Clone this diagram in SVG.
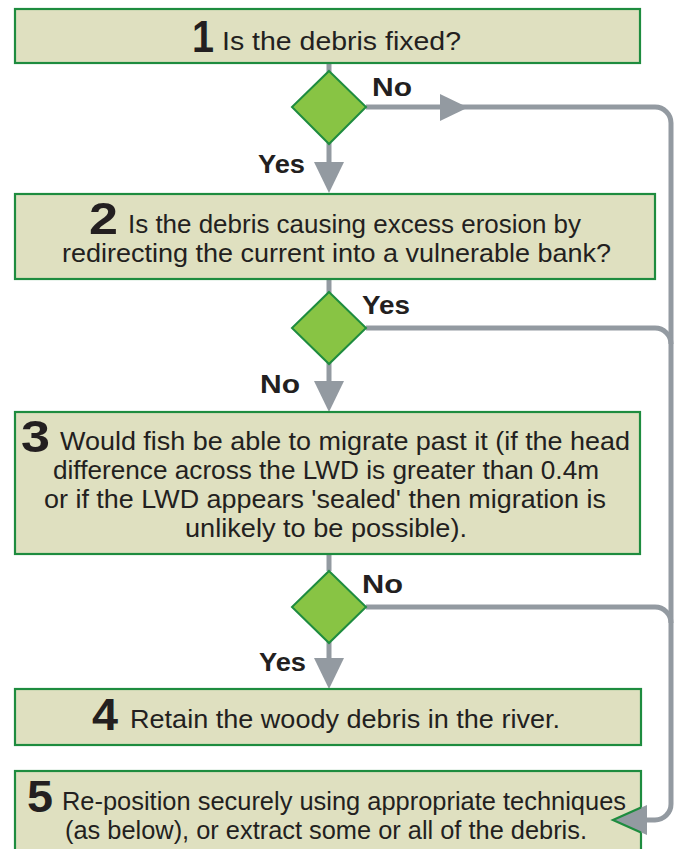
<svg xmlns="http://www.w3.org/2000/svg" width="683" height="849" viewBox="0 0 683 849">
<style>
.box{fill:#dfe0c0;stroke:#1e8c3f;stroke-width:2.2}
.dia{fill:#88c444;stroke:#1e8c3f;stroke-width:2}
.ln{fill:none;stroke:#939aa1;stroke-width:5}
.ah{fill:#939aa1;stroke:none}
.t{font-family:"Liberation Sans",Arial,sans-serif;font-size:25.5px;fill:#231f20}
.n{font-family:"Liberation Sans",Arial,sans-serif;font-size:45px;font-weight:bold;fill:#231f20}
.lb{font-family:"Liberation Sans",Arial,sans-serif;font-size:26px;font-weight:bold;fill:#231f20}
</style>
<rect width="683" height="849" fill="#ffffff"/>
<g id="connectors">
<line class="ln" x1="329" y1="63" x2="329" y2="72"/>
<line class="ln" x1="329" y1="143" x2="329" y2="165"/>
<polygon class="ah" points="314,162 344,162 329,193"/>
<line class="ln" x1="329" y1="279" x2="329" y2="293"/>
<line class="ln" x1="329" y1="363" x2="329" y2="384"/>
<polygon class="ah" points="314,381 344,381 329,412"/>
<line class="ln" x1="329" y1="554" x2="329" y2="571"/>
<line class="ln" x1="329" y1="642" x2="329" y2="661"/>
<polygon class="ah" points="314,658 344,658 329,689"/>
<path class="ln" d="M 366 107 H 655 A 16 16 0 0 1 671 123 V 804 A 16 16 0 0 1 655 820 H 640"/>
<polygon class="ah" points="440,94 440,121 468,107.5"/>
<path class="ln" d="M 366 328 H 655 A 16 16 0 0 1 671 344"/>
<path class="ln" d="M 366 607 H 655 A 16 16 0 0 1 671 623"/>
</g>
<g id="n1">
<rect class="box" x="15" y="9" width="625" height="54"/>
<text class="n" x="192" y="52" textLength="22" lengthAdjust="spacingAndGlyphs">1</text>
<text class="t" x="222" y="50" textLength="239" lengthAdjust="spacingAndGlyphs">Is the debris fixed?</text>
</g>
<g id="d1">
<polygon class="dia" points="329,71 366,107 329,144 292,107"/>
<text class="lb" x="372" y="96" textLength="40" lengthAdjust="spacingAndGlyphs">No</text>
<text class="lb" x="258" y="173" textLength="47" lengthAdjust="spacingAndGlyphs">Yes</text>
</g>
<g id="n2">
<rect class="box" x="15" y="194" width="640" height="85"/>
<text class="n" x="89" y="234" textLength="29" lengthAdjust="spacingAndGlyphs">2</text>
<text class="t" x="128" y="233" textLength="453" lengthAdjust="spacingAndGlyphs">Is the debris causing excess erosion by</text>
<text class="t" x="62" y="262" textLength="549" lengthAdjust="spacingAndGlyphs">redirecting the current into a vulnerable bank?</text>
</g>
<g id="d2">
<polygon class="dia" points="329,292 366,328 329,364 292,328"/>
<text class="lb" x="362" y="314" textLength="48" lengthAdjust="spacingAndGlyphs">Yes</text>
<text class="lb" x="260" y="393" textLength="40" lengthAdjust="spacingAndGlyphs">No</text>
</g>
<g id="n3">
<rect class="box" x="15" y="412" width="625" height="142"/>
<text class="n" x="21" y="452" textLength="29" lengthAdjust="spacingAndGlyphs">3</text>
<text class="t" x="60" y="450" textLength="570" lengthAdjust="spacingAndGlyphs">Would fish be able to migrate past it (if the head</text>
<text class="t" x="53" y="479" textLength="546" lengthAdjust="spacingAndGlyphs">difference across the LWD is greater than 0.4m</text>
<text class="t" x="44" y="508" textLength="562" lengthAdjust="spacingAndGlyphs">or if the LWD appears 'sealed' then migration is</text>
<text class="t" x="185" y="537" textLength="282" lengthAdjust="spacingAndGlyphs">unlikely to be possible).</text>
</g>
<g id="d3">
<polygon class="dia" points="329,571 366,607 329,643 292,607"/>
<text class="lb" x="362" y="593" textLength="41" lengthAdjust="spacingAndGlyphs">No</text>
<text class="lb" x="259" y="671" textLength="47" lengthAdjust="spacingAndGlyphs">Yes</text>
</g>
<g id="n4">
<rect class="box" x="15" y="689" width="626" height="56"/>
<text class="n" x="92" y="730" textLength="26" lengthAdjust="spacingAndGlyphs">4</text>
<text class="t" x="130" y="728" textLength="430" lengthAdjust="spacingAndGlyphs">Retain the woody debris in the river.</text>
</g>
<g id="n5">
<rect class="box" x="15" y="771" width="626" height="90"/>
<text class="n" x="27" y="812" textLength="26" lengthAdjust="spacingAndGlyphs">5</text>
<text class="t" x="62" y="810" textLength="564" lengthAdjust="spacingAndGlyphs">Re-position securely using appropriate techniques</text>
<text class="t" x="65" y="839" textLength="522" lengthAdjust="spacingAndGlyphs">(as below), or extract some or all of the debris.</text>
<polygon class="ah" points="647,805 647,835 613,820"/>
<polyline points="641,807.5 613,820 641,832.5" fill="none" stroke="#1e8c3f" stroke-width="2.2"/>
</g>
</svg>
